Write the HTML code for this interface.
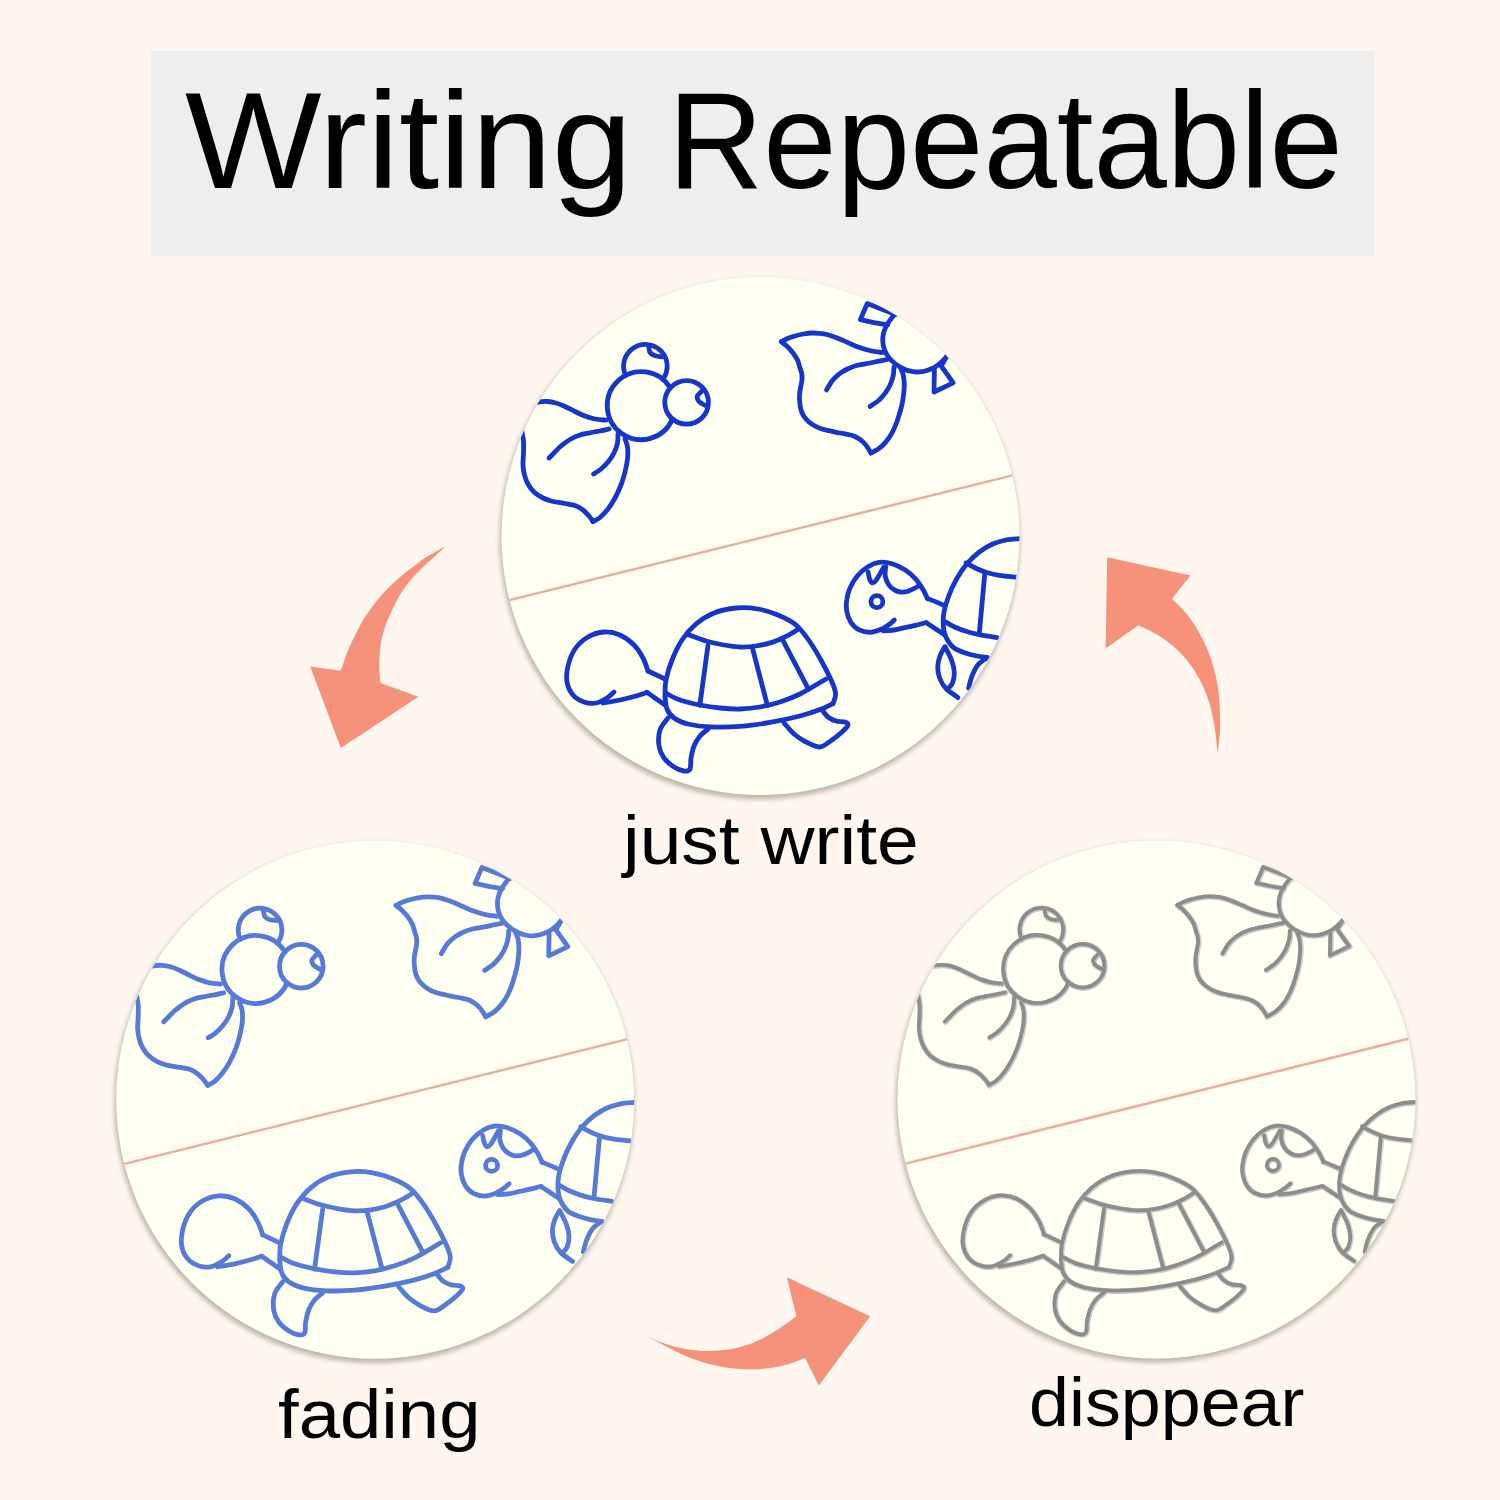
<!DOCTYPE html>
<html lang="en">
<head>
<meta charset="utf-8">
<title>Writing Repeatable</title>
<style>
html,body{margin:0;padding:0}
body{width:1500px;height:1500px;background:#fff6f0;position:relative;overflow:hidden;font-family:"Liberation Sans",sans-serif;color:#000}
svg{position:absolute;left:0;top:0;display:block}
.t{position:absolute;white-space:nowrap;line-height:1;transform-origin:0 0}
#t1{left:185px;top:72px;font-size:137px;transform:scaleX(1.0553)}
#t2{left:668px;top:72px;font-size:137px;transform:scaleX(0.963)}
#l1{left:622.5px;top:806px;font-size:69px;transform:scaleX(1.086)}
#l2{left:277.5px;top:1380px;font-size:69px;transform:scaleX(1.077)}
#l3{left:1029px;top:1367.5px;font-size:69px;transform:scaleX(1.0407)}
</style>
</head>
<body>
<svg width="1500" height="1500" viewBox="0 0 1500 1500">
<defs>
<clipPath id="cp"><circle cx="760.5" cy="536.0" r="259.0"/></clipPath>
<filter id="sh" x="-10%" y="-10%" width="120%" height="120%"><feGaussianBlur stdDeviation="2.9"/></filter>
<filter id="soft" x="-5%" y="-5%" width="110%" height="110%"><feGaussianBlur stdDeviation="0.45"/></filter>
<g id="ln" clip-path="url(#cp)"><path d="M480 607.5L1040 468.5" stroke="#f0aca2" stroke-width="2.5" fill="none"/></g>
<g id="raw" filter="url(#soft)" fill="none" stroke="currentColor" stroke-linecap="round" stroke-linejoin="round">
<path d="M672.5 419A34 34 0 1 1 670.3 388"/>
<path d="M625.6 375.4A21.8 21.8 0 1 1 662.8 379.3"/>
<path d="M648.8 347.2C649 348.1 649.1 351 650 352.4C650.9 353.8 652.5 354.9 654.4 355.6C656.3 356.3 660.4 356.6 661.6 356.8"/>
<path d="M701.2 391.6C700.5 392.4 697.6 394.8 697.2 396.4C696.8 398 697.7 399.8 698.8 401.2C699.9 402.6 702.5 403.9 704 404.8C705.5 405.7 707 406.1 707.6 406.4"/>
<path d="M530 404C531.4 403.7 535.7 402.4 538.5 402C541.3 401.6 544.1 401.3 547 401.5C549.9 401.7 553 402.2 556 403C559 403.8 561.8 405.1 565 406.5C568.2 407.9 571.7 409.9 575 411.5C578.3 413.1 581.7 414.8 585 416C588.3 417.2 591.5 418.3 595 419C598.5 419.7 604.2 420 606 420.2"/>
<path d="M520 423C520.3 424.5 521.4 429 522 432C522.6 435 523.2 437.5 523.5 441C523.8 444.5 523.6 449 523.5 453C523.4 457 522.8 461.3 523 465C523.2 468.7 523.7 471.8 524.5 475C525.3 478.2 526.4 481.2 528 484C529.6 486.8 531.5 489.7 534 492C536.5 494.3 539.8 496.4 543 498C546.2 499.6 549.3 500.6 553 501.5C556.7 502.4 561.3 502.8 565 503.5C568.7 504.2 572 504.4 575 505.5C578 506.6 580.7 508.2 583 510C585.3 511.8 587.3 514.1 589 516C590.7 517.9 592.3 520.6 593 521.5"/>
<path d="M593 521.5C594.2 520.8 597.5 519.6 600 517.5C602.5 515.4 605.5 512.2 608 509C610.5 505.8 612.8 502 615 498C617.2 494 619.3 489.3 621 485C622.7 480.7 623.9 476.3 625 472C626.1 467.7 627.1 463.2 627.5 459C627.9 454.8 627.9 450.3 627.5 447C627.1 443.7 625.4 440.3 625 439"/>
<path d="M609 429C607.5 429.3 603.2 430.4 600 431C596.8 431.6 593.3 432.1 590 432.8C586.7 433.5 583.3 433.9 580 435C576.7 436.1 573.2 437.7 570 439.5C566.8 441.3 563.7 443.8 561 446C558.3 448.2 556 451 554 453C552 455 549.8 457.2 549 458"/>
<path d="M618 434C617.9 435.5 618.2 439.8 617.5 443C616.8 446.2 615.6 449.8 614 453C612.4 456.2 610.2 459.3 608 462C605.8 464.7 603.4 467 601 469C598.6 471 594.8 473.2 593.5 474"/>
<path d="M898 310C897.2 311 894.8 313.9 893.2 316C891.6 318.1 889.7 320.3 888.4 322.4C887.1 324.5 886.1 326.3 885.2 328.4C884.3 330.5 883.6 332.7 883.2 334.8C882.8 336.9 882.7 339.1 882.8 341.2C882.9 343.3 883.2 345.6 883.8 347.6C884.3 349.6 885.1 351.5 886 353.2C886.9 354.9 888 356.5 889.2 358C890.4 359.5 891.7 360.7 893.2 362C894.7 363.3 896.5 364.8 898.4 366C900.3 367.2 902.4 368.3 904.4 369.2C906.4 370.1 908.4 370.7 910.4 371.2C912.4 371.7 914.4 371.9 916.4 372C918.4 372.1 920.4 371.9 922.4 371.6C924.4 371.3 926.5 370.7 928.4 370C930.3 369.3 932.3 368.5 934 367.6C935.7 366.7 937.3 365.5 938.8 364.4C940.3 363.3 941.6 362 942.8 360.8C944 359.6 944.9 358.6 946 357.2C947.1 355.8 948.7 353.2 949.2 352.4"/>
<path d="M895.6 314.6L867.2 303.6L860.4 319.6L874 322.6L887.8 324.9"/>
<path d="M946.8 356.4L941.2 366L953.2 382.8L934 392L934.4 369.6"/>
<path d="M781.3 341.7C782.3 341.2 785.2 339.4 787.5 338.5C789.8 337.6 792.3 336.8 795 336C797.7 335.2 800.7 334.5 803.5 334C806.3 333.5 809.3 333.1 812 333C814.7 332.9 817 333.1 819.5 333.3C822 333.6 824.5 333.9 827 334.5C829.5 335.1 832 336.1 834.5 337C837 337.9 839.4 338.9 842 340C844.6 341.1 847.3 342.4 850 343.6C852.7 344.8 855.5 346.1 858 347C860.5 347.9 862.7 348.5 865 349.2C867.3 349.9 869.2 350.4 872 351C874.8 351.6 880.3 352.3 882 352.6"/>
<path d="M781.3 341.7C782.3 342.5 785.2 344.6 787.2 346.5C789.2 348.4 791.3 350.8 793 353C794.7 355.2 796.3 357.5 797.5 360C798.7 362.5 799.3 365.7 800 368C800.7 370.3 801.5 372 801.8 374C802.1 376 802.2 377.7 802 380C801.8 382.3 800.9 385.5 800.5 388C800.1 390.5 799.6 392.5 799.5 395C799.4 397.5 799.5 400.5 799.8 403C800 405.5 800.3 407.8 801 410C801.7 412.2 802.7 414.5 804 416.5C805.3 418.5 807.2 420.4 809 422C810.8 423.6 812.8 424.8 815 426C817.2 427.2 819.3 428.1 822 429C824.7 429.9 828 430.5 831 431.2C834 431.9 837.2 432.4 840 433C842.8 433.6 845.5 433.9 848 434.5C850.5 435.1 852.9 435.6 855 436.5C857.1 437.4 858.8 438.6 860.5 439.8C862.2 441.1 863.7 442.5 865 444C866.3 445.5 867.5 447.3 868.5 448.8C869.5 450.3 870.6 452.3 871 453"/>
<path d="M871 453C872.1 452.4 875.5 450.8 877.5 449.5C879.5 448.2 881.2 446.8 883 445C884.8 443.2 886.8 440.8 888.5 438.5C890.2 436.2 891.6 433.8 893 431C894.4 428.2 895.8 424.7 897 421.5C898.2 418.3 899.1 415 900 412C900.9 409 901.6 406.3 902.2 403.5C902.8 400.7 903.2 397.7 903.5 395C903.8 392.3 904.1 390 904.2 387.5C904.3 385 904.2 382.2 904 380C903.8 377.8 903.5 375.8 903 374C902.5 372.2 901.3 369.8 901 369"/>
<path d="M887 359.5C885.6 359.8 881.3 360.6 878.5 361.2C875.7 361.8 872.7 362.5 870 363C867.3 363.5 865 363.8 862.5 364.3C860 364.8 857.4 365.3 855 366C852.6 366.7 850.2 367.7 848 368.7C845.8 369.7 843.9 370.8 842 372C840.1 373.2 838.2 374.7 836.5 376.2C834.8 377.7 833.7 378.7 832 381C830.3 383.3 827.4 388.5 826.5 390"/>
<path d="M894 367C893.9 368.2 893.8 371.8 893.5 374C893.2 376.2 892.7 378 892 380C891.3 382 890.5 384.2 889.5 386.2C888.5 388.2 887.2 390.2 886 392C884.8 393.8 883.5 395.3 882.2 396.8C880.9 398.3 880 399.4 878 401C876 402.6 871.3 405.6 870 406.5"/>
<path d="M665 696C665.2 693.3 664.8 686 666 680C667.2 674 669.3 666.7 672 660C674.7 653.3 678 646 682 640C686 634 690.7 628.5 696 624C701.3 619.5 707.3 615.7 714 613C720.7 610.3 728.7 608.7 736 608C743.3 607.3 751 607.8 758 609C765 610.2 771.7 612.3 778 615C784.3 617.7 790.7 620.5 796 625C801.3 629.5 805.7 635.8 810 642C814.3 648.2 818.3 655.3 822 662C825.7 668.7 829.7 676.7 832 682C834.3 687.3 835.4 690.4 835.6 694C835.8 697.6 833.4 702 833 703.6"/>
<path d="M665 696C665.3 698.2 665.5 705.3 667 709C668.5 712.7 670.5 715.5 674 718C677.5 720.5 681.7 722.5 688 724C694.3 725.5 703.3 726.6 712 727C720.7 727.4 730.3 727.2 740 726.4C749.7 725.6 760 724.1 770 722.4C780 720.7 791.7 718.1 800 716C808.3 713.9 814.5 711.7 820 709.6C825.5 707.5 830.8 704.6 833 703.6"/>
<path d="M665.6 693C668 694.2 674.3 698 680 700C685.7 702 693.3 703.7 700 705C706.7 706.3 713.3 707.3 720 708C726.7 708.7 733.3 709.2 740 709C746.7 708.8 753.3 708.2 760 707C766.7 705.8 773.3 704.2 780 702C786.7 699.8 792.3 697.8 800 694C807.7 690.2 821.7 681.5 826 679"/>
<path d="M687.6 634.4C690.7 635.5 699.9 639.2 706 641C712.1 642.8 718.3 644 724 645C729.7 646 734.7 646.8 740 647C745.3 647.2 750.7 646.8 756 646C761.3 645.2 767 644 772 642.4C777 640.8 781.8 638.5 786 636.4C790.2 634.3 795.2 631.1 797 630"/>
<path d="M708 645.2L699.8 705.4"/>
<path d="M752.2 647.2L767.4 705.4"/>
<path d="M782 638.6L808.6 689.4"/>
<path d="M665 679L648 671"/>
<path d="M648 671C647.2 668.8 645.3 662.3 643 658C640.7 653.7 637.8 648.8 634 645C630.2 641.2 625 637.2 620 635C615 632.8 609.3 631.7 604 632C598.7 632.3 592.8 634.2 588 637C583.2 639.8 578.3 644.2 575 649C571.7 653.8 569.3 660.5 568 666C566.7 671.5 566.2 677.2 567 682C567.8 686.8 570.2 691.7 573 695C575.8 698.3 580.2 700.7 584 702C587.8 703.3 592.2 703.7 596 703C599.8 702.3 604 699.8 607 698C610 696.2 612.8 693 614 692"/>
<path d="M603 703C605.8 702.5 614.5 701.2 620 700C625.5 698.8 631.5 697.3 636 696C640.5 694.7 645.2 693 647 692.4"/>
<path d="M647 692.4L665 705"/>
<path d="M668 718C666.7 720 661.5 725.3 660 730C658.5 734.7 658.3 741.3 659 746C659.7 750.7 661.5 754.5 664 758C666.5 761.5 670.7 764.8 674 767C677.3 769.2 681.3 770.7 684 771C686.7 771.3 688.8 771.2 690 769C691.2 766.8 690.3 761.8 691 758C691.7 754.2 692.5 749.7 694 746C695.5 742.3 697.7 738.8 700 736C702.3 733.2 706.7 730.2 708 729"/>
<path d="M784 723C785.7 724.8 790.3 730.8 794 734C797.7 737.2 801.7 739.8 806 742C810.3 744.2 815.7 747.3 820 747C824.3 746.7 828.3 742.5 832 740C835.7 737.5 839.3 734.5 842 732C844.7 729.5 847.5 726.7 848 725C848.5 723.3 847 722.7 845 722C843 721.3 838.8 721.8 836 721C833.2 720.2 830.3 718.8 828 717C825.7 715.2 823 711.2 822 710"/>
<path d="M944.3 605.6C942.8 604.9 938.2 602.8 935.3 601.6C932.5 600.4 928.7 598.9 927.3 598.4"/>
<path d="M927.3 598.4C926.7 597 925.2 593.2 923.3 590C921.4 586.8 919 582.7 916 579.3C913 576 909.3 572.6 905.3 570C901.3 567.4 896.3 565 892 563.7C887.7 562.5 883.3 561.9 879.3 562.4C875.3 562.9 871.7 564.4 868 566.7C864.3 568.9 860.3 572.4 857.3 576C854.3 579.6 851.8 584 850 588C848.2 592 847.2 596.2 846.7 600C846.1 603.8 846 607 846.7 610.7C847.3 614.3 848.7 618.8 850.7 622C852.7 625.2 855.4 627.9 858.7 629.6C861.9 631.3 866.2 632.3 870 632.3C873.8 632.2 878.1 630.7 881.3 629.3C884.6 628 887.2 625.8 889.3 624.3C891.5 622.7 893.4 620.7 894.3 620"/>
<path d="M883.3 630.9C885.1 630.8 890.4 630.5 894 630C897.6 629.5 901.1 628.5 904.7 627.7C908.2 627 911.7 626.2 915.3 625.3C918.9 624.5 924.4 623.1 926.3 622.7"/>
<path d="M926.3 622.7L944.9 634.9"/>
<path d="M885.7 566.7C885.6 568.2 884.7 573 885.2 576C885.7 579 887.2 582.4 888.7 584.7C890.1 586.9 892 588.4 894 589.6C896 590.8 898.2 591.8 900.7 592C903.1 592.2 905.8 591.9 908.7 590.9C911.6 590 916.4 587.2 918 586.4"/>
<path d="M868.1 572C868.4 573.2 868.8 577.1 869.5 578.9C870.2 580.8 871.3 582.7 872.4 582.9C873.5 583.2 874.2 582.9 876.1 580.3C878 577.6 882.5 569.4 883.7 567.2"/>
<path d="M1019.3 538.7C1017.1 538.9 1010.4 539.1 1006 540C1001.6 540.9 997.1 542 992.7 544C988.2 546 983.6 548.8 979.3 552C975.1 555.2 971.1 558.9 967.3 563.3C963.6 567.8 959.8 573.2 956.7 578.7C953.6 584.1 950.8 590.4 948.7 596C946.6 601.6 944.9 607.1 944 612C943.1 616.9 943 621.1 943.3 625.3C943.7 629.6 944.3 633.7 946 637.3C947.7 641 950.2 644.8 953.3 647.3C956.4 649.9 960.8 651.2 964.7 652.7C968.6 654.1 972.9 655.2 976.7 656C980.4 656.8 985.6 657.3 987.3 657.6"/>
<path d="M944.4 621.3C946 622.2 950.4 625 954 626.7C957.6 628.3 961.8 630 966 631.3C970.2 632.7 974.1 633.6 979.3 634.7C984.6 635.7 994.3 637.1 997.3 637.6"/>
<path d="M966 562.9C967.6 563.8 972 566.4 975.3 568C978.7 569.6 982 571 986 572.3C990 573.5 994.3 574.5 999.3 575.3C1004.3 576.1 1013.2 576.8 1016 577.1"/>
<path d="M984.9 572.3L979.3 633.6"/>
<path d="M944.9 646.7C944.1 648.2 941.2 652.7 940 656C938.8 659.3 937.8 663 937.7 666.7C937.7 670.3 938.2 674.3 939.6 678C941 681.7 942.9 685.4 946 688.7C949.1 691.9 956 696.1 958 697.6"/>
<path d="M945.5 647.6C946.6 649.9 950.5 657 952 661.3C953.5 665.6 954.2 669.7 954.3 673.3C954.3 677 953.5 680.7 952.4 683.3C951.3 686 948.4 688.1 947.6 689.1"/>
<path d="M987.3 657.6C985.8 658.8 980.6 661.6 978 664.7C975.4 667.7 973.6 672.1 972 676C970.4 679.9 969.2 686 968.7 688"/>
<circle cx="686.6" cy="402.4" r="21.8"/>
<circle cx="876.9" cy="601.6" r="6.0"/>
</g>
<g id="art" clip-path="url(#cp)"><use href="#raw"/></g>
<g id="disc">
<circle cx="759.7" cy="539.2" r="260.0" fill="#878170" opacity="0.55" filter="url(#sh)"/>
<circle cx="760.5" cy="536.0" r="259.0" fill="#fffff2"/>
</g>
</defs>
<rect x="151" y="51" width="1223" height="205" fill="#eeeeee"/>
<use href="#disc"/>
<use href="#disc" transform="translate(-385.3 563.8)"/>
<use href="#disc" transform="translate(396.0 563.4)"/>
<use href="#ln"/>
<use href="#ln" transform="translate(-385.3 563.8)"/>
<use href="#ln" transform="translate(396.0 563.4)"/>
<use href="#art" color="#1535ca" stroke-width="4.8"/>
<use href="#art" color="#567ad8" stroke-width="4.8" transform="translate(-385.3 563.8)"/>
<g transform="translate(396.0 563.4)">
<g clip-path="url(#cp)" filter="url(#soft)">
<use href="#raw" color="#ffffff" stroke-width="5" transform="translate(1.8 1.8)"/>
<use href="#raw" color="#cbcbc8" stroke-width="5.6" transform="translate(0.6 0.6)"/>
<use href="#raw" color="#8d8d8b" stroke-width="3.8"/>
</g>
</g>
<g fill="#f6927a">
<path d="M446.1 546C443.1 547.7 433.2 552.9 428 556.1C422.8 559.3 419.6 561.9 415.2 565.2C410.8 568.5 406.1 571.8 401.3 575.9C396.5 580 390.8 585.1 386.4 589.7C382 594.4 378.4 598.8 374.7 603.6C370.9 608.4 367.2 613.4 364 618.5C360.8 623.7 358.1 629.2 355.5 634.5C352.8 639.9 350.1 645.4 348 650.5C345.9 655.7 343.9 662.1 342.7 665.5C341.4 668.8 340.7 669.9 340.3 670.8L310.2 666.4L340.8 748L418.4 696.8L380.6 683L380.6 683C380.4 681.1 379.7 676 379.5 671.9C379.3 667.7 379.2 663 379.5 658C379.7 653 380.1 647.3 381.1 642C382 636.7 383.6 631.2 385.3 626C387.1 620.8 389.4 616 391.7 611.1C394 606.1 396.4 600.9 399.2 596.1C402 591.3 405.2 586.7 408.8 582.3C412.4 577.8 416.4 573.6 420.5 569.5C424.6 565.4 429.1 561.6 433.3 557.7C437.6 553.8 444 548 446.1 546Z"/>
<path d="M1217.6 753.2C1218 749.3 1219.7 737.9 1220 730C1220.3 722.1 1220.1 713.5 1219.7 706C1219.3 698.5 1218.7 692.1 1217.6 685.2C1216.5 678.3 1214.9 671.3 1212.8 664.4C1210.7 657.5 1207.9 650.3 1204.8 643.6C1201.7 636.9 1198 630 1194.4 624.4C1190.8 618.8 1186.9 614.3 1183.2 610C1179.5 605.7 1173.9 600.7 1172 598.8L1190.4 575.6L1107.2 557.2L1105.6 648.4L1138.4 625.2L1138.4 625.2C1141.3 626.7 1150.4 630.7 1156 634C1161.6 637.3 1166.9 640.9 1172 645.2C1177.1 649.5 1181.9 654 1186.4 659.6C1190.9 665.2 1195.5 671.9 1199.2 678.8C1202.9 685.7 1206.3 693.5 1208.8 701.2C1211.3 708.9 1212.9 716.5 1214.4 725.2C1215.9 733.9 1217.1 748.5 1217.6 753.2Z"/>
<path d="M644.7 1335.3C647.8 1336.6 656.7 1341 662.9 1343.1C669.1 1345.3 675.4 1347 682 1348.3C688.6 1349.6 695.9 1350.6 702.8 1350.9C709.7 1351.2 716.7 1350.9 723.6 1350.1C730.5 1349.2 737.8 1347.8 744.4 1345.7C751 1343.7 757.4 1341 763.5 1337.9C769.5 1334.9 775.3 1331.1 780.8 1327.5C786.3 1323.9 793.8 1318.1 796.4 1316.3L786.9 1277.3L870.1 1316.3L818.9 1385.6L805.1 1357.9L805.1 1357.9C801.9 1359 792.6 1363 786 1364.8C779.4 1366.6 772.4 1367.9 765.2 1368.6C758 1369.3 750.2 1369.5 742.7 1369.1C735.2 1368.8 727.6 1368 720.1 1366.5C712.6 1365.1 705.1 1363.1 697.6 1360.5C690.1 1357.9 683.9 1355.1 675.1 1350.9C666.3 1346.7 649.8 1337.9 644.7 1335.3Z"/>
</g>
</svg>
<div class="t" id="t1">Writing</div>
<div class="t" id="t2">Repeatable</div>
<div class="t" id="l1">just write</div>
<div class="t" id="l2">fading</div>
<div class="t" id="l3">disppear</div>
</body>
</html>
